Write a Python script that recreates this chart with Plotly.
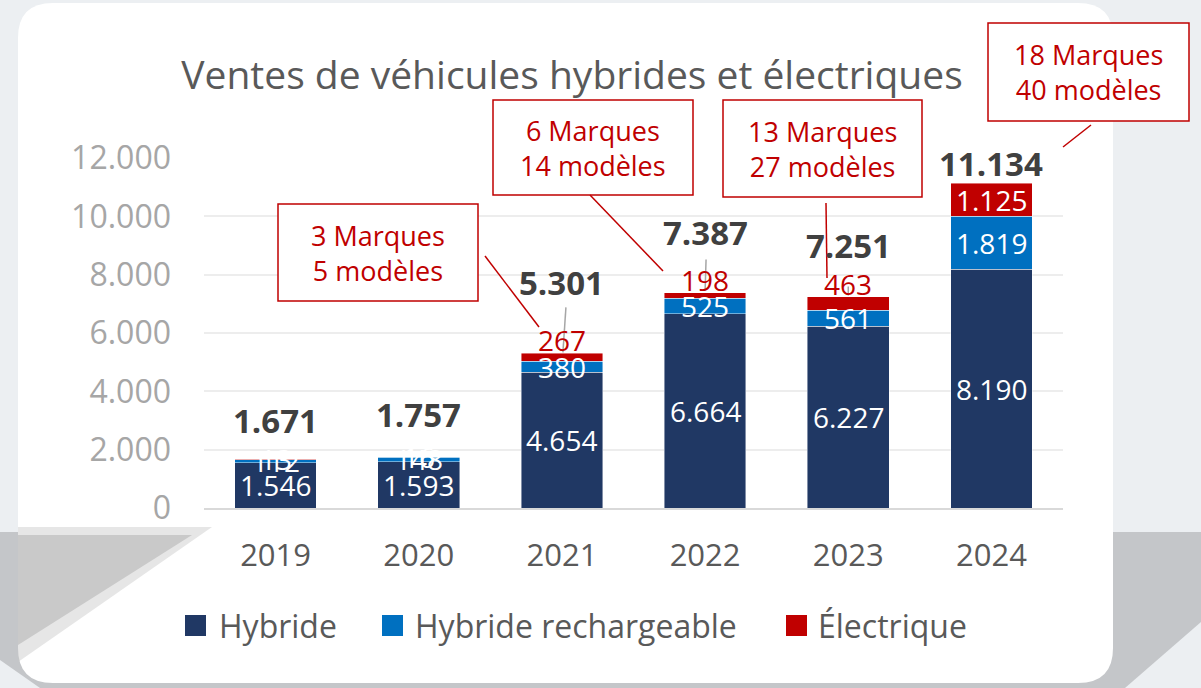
import plotly.graph_objects as go

# ---------------- data ----------------
years = ["2019", "2020", "2021", "2022", "2023", "2024"]
hybride = [1546, 1593, 4654, 6664, 6227, 8190]
hybride_rechargeable = [112, 148, 380, 525, 561, 1819]
electrique = [13, 16, 267, 198, 463, 1125]
totals = [1671, 1757, 5301, 7387, 7251, 11134]
series_names = ["Hybride", "Hybride rechargeable", "Électrique"]
y_ticks = [0, 2000, 4000, 6000, 8000, 10000, 12000]
callout_texts = ["3 Marques<br>5 modèles", "6 Marques<br>14 modèles",
                 "13 Marques<br>27 modèles", "18 Marques<br>40 modèles"]
title_text = "Ventes de véhicules hybrides et électriques"

# ---------------- styling / layout config ----------------
C_HYB = "#203864"
C_PHEV = "#0070C0"
C_EV = "#C00000"
FONT = "Open Sans"
total_label_offsets = [39, 42, 71, 60, 51, 20]      # px above stack top
ev_label_mode = ["inside", "inside", "above", "above", "above", "inside"]

W_FIG, H_FIG = 1201, 688
L, R, T, B = 204, 1063, 158, 508
PW, PH = R - L, B - T


def px(x):
    return (x - L) / PW


def py(y):
    return (B - y) / PH


def fmt(v):
    return f"{v:,}".replace(",", ".")


fig = go.Figure()
for name, vals, col in zip(series_names, [hybride, hybride_rechargeable, electrique],
                           [C_HYB, C_PHEV, C_EV]):
    fig.add_trace(go.Bar(x=years, y=vals, name=name, marker_color=col,
                         marker_line=dict(color="rgba(255,255,255,0.55)", width=0.8),
                         showlegend=False, hoverinfo="x+y+name"))

shapes = []
annotations = []

# background gray band (behind card)
shapes.append(dict(type="path", xref="paper", yref="paper", layer="below",
                   path=(f"M {px(0)},{py(532)} L {px(1201)},{py(532)} L {px(1201)},{py(622)} "
                         f"L {px(1125)},{py(688)} L {px(40)},{py(688)} L {px(0)},{py(660)} Z"),
                   fillcolor="#C4C6C9", line=dict(width=0)))

# white card with rounded corners
x0, x1, y0, y1, r = 18, 1113, 3, 683, 35
card = (f"M {px(x0+r)},{py(y0)} L {px(x1-r)},{py(y0)} Q {px(x1)},{py(y0)} {px(x1)},{py(y0+r)} "
        f"L {px(x1)},{py(y1-r)} Q {px(x1)},{py(y1)} {px(x1-r)},{py(y1)} "
        f"L {px(x0+r)},{py(y1)} Q {px(x0)},{py(y1)} {px(x0)},{py(y1-r)} "
        f"L {px(x0)},{py(y0+r)} Q {px(x0)},{py(y0)} {px(x0+r)},{py(y0)} Z")
shapes.append(dict(type="path", xref="paper", yref="paper", layer="below", path=card,
                   fillcolor="white", line=dict(width=0)))

# gray shadow triangle over the card (left)
shapes.append(dict(type="path", xref="paper", yref="paper", layer="below",
                   path=f"M {px(18)},{py(527)} L {px(212)},{py(527)} L {px(18)},{py(662)} Z",
                   fillcolor="rgba(200,200,200,0.45)", line=dict(width=0)))
shapes.append(dict(type="path", xref="paper", yref="paper", layer="below",
                   path=f"M {px(18)},{py(535)} L {px(192)},{py(535)} L {px(18)},{py(645)} Z",
                   fillcolor="#C9C9C9", line=dict(width=0)))

# segment labels
for i, yr in enumerate(years):
    h, p, e, t = hybride[i], hybride_rechargeable[i], electrique[i], totals[i]
    annotations.append(dict(x=i, y=h / 2, xref="x", yref="y", text=fmt(h), showarrow=False,
                            font=dict(family=FONT, size=28, color="white")))
    annotations.append(dict(x=i, y=h + p / 2, xref="x", yref="y", text=fmt(p), showarrow=False,
                            font=dict(family=FONT, size=28, color="white")))
    if ev_label_mode[i] == "inside":
        annotations.append(dict(x=i, y=h + p + e / 2, xref="x", yref="y", text=fmt(e),
                                showarrow=False, font=dict(family=FONT, size=28, color="white")))
    else:
        annotations.append(dict(x=i, y=h + p + e, xref="x", yref="y", yshift=13, text=fmt(e),
                                showarrow=False, font=dict(family=FONT, size=28, color=C_EV)))
    annotations.append(dict(x=i, y=t, xref="x", yref="y", yshift=total_label_offsets[i],
                            text=f"<b>{fmt(t)}</b>", showarrow=False,
                            font=dict(family=FONT, size=33, color="#404040")))

# gray leader lines from totals to stack top (2021-2023)
leader_specs = {2: (1, 46, 1, 4), 3: (2, 33, 0, 1), 4: (1, 10, 0, 0)}
for i, (a, b, dx0, dx1) in leader_specs.items():
    shapes.append(dict(type="line", xref="x", yref="y", xsizemode="pixel", ysizemode="pixel",
                       xanchor=i, yanchor=totals[i], x0=dx0, x1=dx1, y0=a, y1=b,
                       line=dict(color="#A6A6A6", width=1.5)))

# callout boxes
callout_boxes = [(278, 204, 478, 301), (493, 100, 693, 195), (723, 100, 922, 197), (988, 23, 1189, 121)]
for txt, (bx0, by0, bx1, by1) in zip(callout_texts, callout_boxes):
    shapes.append(dict(type="rect", xref="paper", yref="paper", layer="above",
                       x0=px(bx0), x1=px(bx1), y0=py(by1), y1=py(by0),
                       fillcolor="white", line=dict(color=C_EV, width=1.5)))
    annotations.append(dict(x=px((bx0 + bx1) / 2), y=py((by0 + by1) / 2), xref="paper", yref="paper",
                            xanchor="center", yanchor="middle",
                            text=txt, showarrow=False, align="center",
                            font=dict(family=FONT, size=27, color=C_EV)))
callout_lines = [((485, 256), (539, 327)), ((590, 195), (663, 271)),
                 ((826, 203), (827, 278)), ((1091, 125), (1063, 147))]
for (ax, ay), (bx, by) in callout_lines:
    shapes.append(dict(type="line", xref="paper", yref="paper", layer="above",
                       x0=px(ax), y0=py(ay), x1=px(bx), y1=py(by),
                       line=dict(color=C_EV, width=1.5)))

# custom legend
legend_pos = [(185, 217), (382, 413), (786, 816)]
for name, col, (sx, tx) in zip(series_names, [C_HYB, C_PHEV, C_EV], legend_pos):
    shapes.append(dict(type="rect", xref="paper", yref="paper", layer="above",
                       x0=px(sx), x1=px(sx + 21), y0=py(636), y1=py(615),
                       fillcolor=col, line=dict(width=0)))
    annotations.append(dict(x=px(tx), y=py(625), xref="paper", yref="paper", text=name,
                            showarrow=False, xanchor="left", yanchor="middle",
                            font=dict(family=FONT, size=32, color="#595959")))

fig.update_layout(
    width=W_FIG, height=H_FIG,
    margin=dict(l=L, r=W_FIG - R, t=T, b=H_FIG - B, pad=0),
    barmode="stack", bargap=0.43,
    paper_bgcolor="#ECEFF2", plot_bgcolor="rgba(0,0,0,0)",
    separators=",.",
    title=dict(text=title_text, x=572 / W_FIG, xanchor="center", y=1 - 75 / H_FIG,
               yanchor="middle", xref="container", yref="container",
               font=dict(family=FONT, size=39, color="#595959")),
    xaxis=dict(type="category", showgrid=False, showline=True, linecolor="#D9D9D9", linewidth=2,
               tickfont=dict(family=FONT, size=31, color="#595959"), ticks="",
               ticklabelstandoff=19),
    yaxis=dict(range=[0, 12000], tickvals=y_ticks, tickformat=",d", showgrid=True,
               gridcolor="#EDEDED", gridwidth=1.5, zeroline=False, showline=False,
               tickfont=dict(family=FONT, size=32, color="#A6A6A6"), ticks="",
               ticklabelstandoff=32),
    shapes=shapes, annotations=annotations,
    showlegend=False,
)

fig.write_html("out.html", config={"displayModeBar": False},
               post_script="document.body.style.margin='0';document.body.style.overflow='hidden';")
